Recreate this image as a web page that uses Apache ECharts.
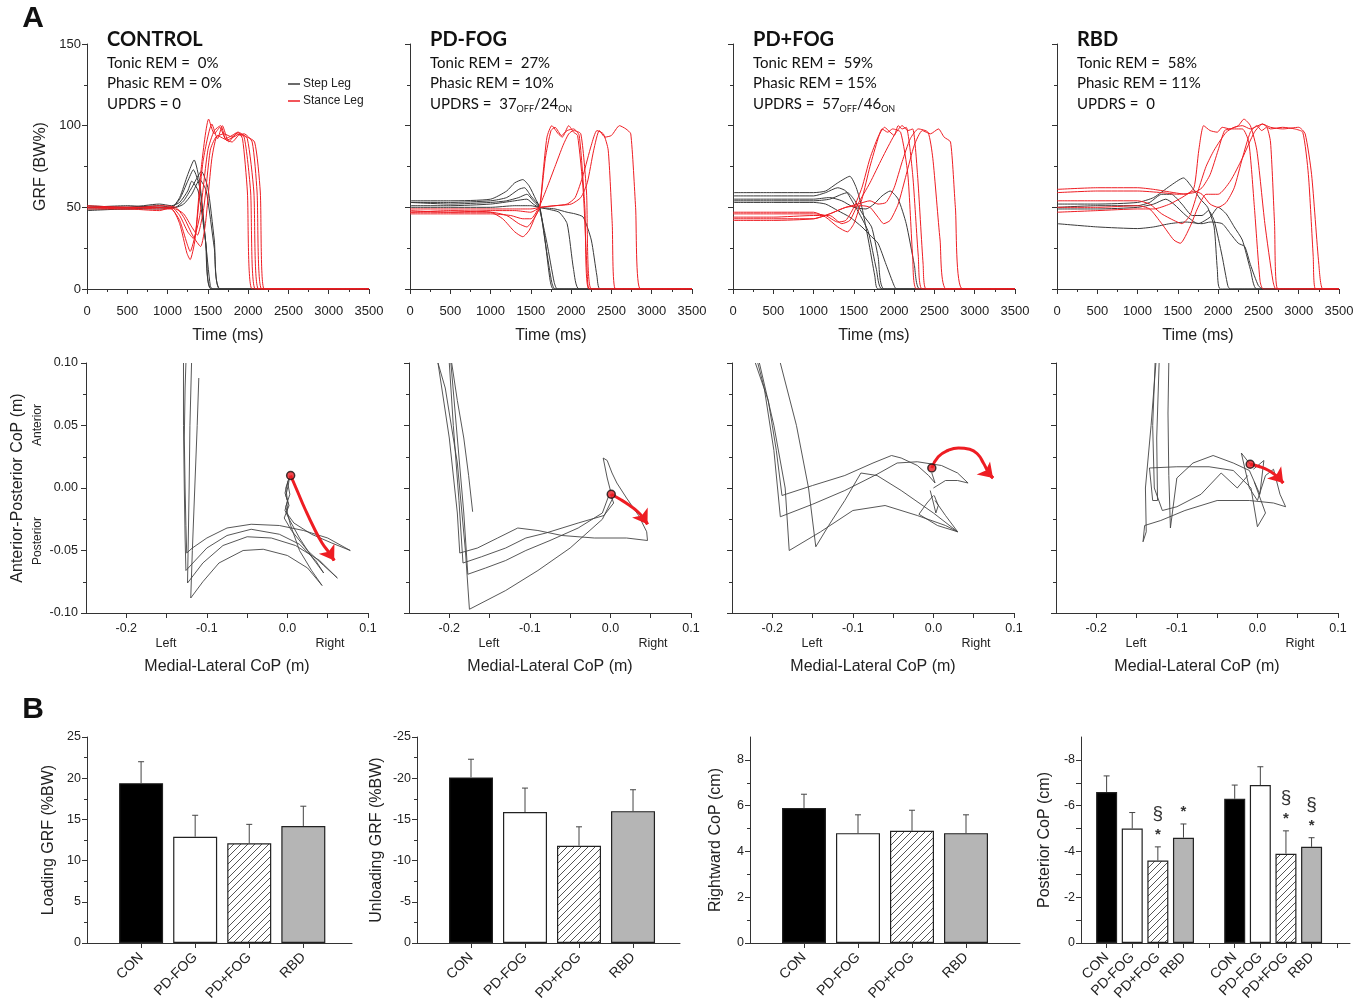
<!DOCTYPE html>
<html>
<head>
<meta charset="utf-8">
<script src="https://cdn.jsdelivr.net/npm/echarts@6/dist/echarts.min.js"></script>
<style>
  html, body { margin: 0; padding: 0; background: #fff; }
  #chart { width: 1363px; height: 1005px; }
</style>
</head>
<body>
<div id="chart"></div>
<script>
// ---- data: GRF traces [time ms, GRF %BW] ----
const grfControlStep = [
  [[0,50],[500,50],[900,51],[1050,50],[1150,56],[1250,70],[1330,79],[1400,65],[1470,30],[1530,2],[1560,0],[3500,0]],
  [[0,49],[500,49],[900,50],[1050,50],[1150,55],[1250,66],[1320,73],[1400,62],[1480,25],[1540,0],[3500,0]],
  [[0,51],[500,50],[900,52],[1050,51],[1150,53],[1250,60],[1300,66],[1380,60],[1470,30],[1550,0],[3500,0]],
  [[0,48],[500,49],[900,49],[1100,50],[1200,54],[1300,62],[1420,72],[1500,62],[1580,30],[1650,0],[3500,0]],
  [[0,50],[500,51],[900,50],[1100,50],[1200,52],[1300,58],[1400,67],[1480,60],[1580,25],[1660,0],[3500,0]]
];
const grfControlStance = [
  [[0,50],[500,50],[900,49],[1050,49],[1150,40],[1240,22],[1280,18],[1340,30],[1420,75],[1510,104],[1580,95],[1650,99],[1720,92],[1800,94],[1870,96],[1930,92],[1990,60],[2050,0],[3500,0]],
  [[0,51],[500,50],[900,50],[1050,49],[1150,42],[1240,28],[1280,23],[1350,35],[1440,78],[1550,101],[1620,92],[1680,100],[1760,90],[1850,95],[1950,93],[2030,60],[2090,0],[3500,0]],
  [[0,49],[500,49],[900,48],[1050,50],[1150,45],[1250,35],[1320,31],[1400,45],[1500,85],[1580,97],[1660,100],[1730,91],[1820,93],[1900,95],[1990,92],[2070,60],[2130,0],[3500,0]],
  [[0,50],[500,49],[900,51],[1100,50],[1200,44],[1320,32],[1410,26],[1470,40],[1550,80],[1620,94],[1700,92],[1800,90],[1880,94],[1950,95],[2050,90],[2110,60],[2170,0],[3500,0]],
  [[0,50],[500,50],[900,50],[1100,49],[1200,46],[1300,38],[1370,33],[1450,50],[1530,85],[1600,93],[1700,95],[1800,93],[1880,96],[1950,94],[2080,90],[2150,60],[2200,0],[3500,0]]
];
const grfPdNoFogStep = [
  [[0,54],[500,54],[1000,55],[1200,60],[1300,65],[1400,67],[1480,63],[1560,55],[1610,50],[1680,28],[1740,5],[1780,0],[3500,0]],
  [[0,53],[500,53],[1000,54],[1200,56],[1350,61],[1420,62],[1500,57],[1610,50],[1690,25],[1760,4],[1800,0],[3500,0]],
  [[0,53],[500,52],[1000,53],[1200,54],[1350,56],[1450,58],[1530,54],[1600,50],[1700,28],[1790,4],[1830,0],[3500,0]],
  [[0,51],[500,51],[1000,52],[1300,54],[1450,55],[1530,52],[1600,50],[1700,49],[1850,47],[1950,40],[2030,12],[2100,0],[3500,0]],
  [[0,50],[500,50],[1000,50],[1300,51],[1500,51],[1600,50],[1800,49],[1950,47],[2050,46],[2150,44],[2250,30],[2320,8],[2360,0],[3500,0]]
];
const grfPdNoFogStance = [
  [[0,47],[500,48],[1000,47],[1150,43],[1300,35],[1400,32],[1480,36],[1560,45],[1610,50],[1650,70],[1700,93],[1760,100],[1840,95],[1890,93],[1970,100],[2030,96],[2080,94],[2150,60],[2200,10],[2230,0],[3500,0]],
  [[0,48],[500,47],[1000,47],[1200,45],[1350,40],[1450,38],[1550,44],[1610,50],[1680,80],[1750,97],[1800,99],[1880,94],[1950,97],[2030,98],[2100,94],[2170,50],[2220,0],[3500,0]],
  [[0,46],[500,46],[1000,46],[1250,45],[1400,43],[1500,43],[1600,50],[1700,62],[1800,75],[1900,88],[1970,95],[2030,97],[2120,95],[2190,60],[2250,0],[3500,0]],
  [[0,47],[500,47],[1000,48],[1300,48],[1500,47],[1620,50],[1800,51],[1950,52],[2050,56],[2150,70],[2250,88],[2320,97],[2400,95],[2460,85],[2510,40],[2550,0],[3500,0]],
  [[0,49],[500,49],[1000,49],[1300,49],[1500,49],[1620,50],[1800,51],[2000,52],[2120,56],[2200,65],[2280,85],[2350,97],[2420,93],[2500,94],[2600,100],[2680,98],[2740,95],[2800,50],[2860,0],[3500,0]]
];
const grfPdFogStep = [
  [[0,59],[500,59],[1000,59],[1150,60],[1300,65],[1450,69],[1530,62],[1600,50],[1680,30],[1760,8],[1800,0],[3500,0]],
  [[0,57],[500,57],[1000,57],[1150,59],[1300,62],[1400,60],[1500,52],[1580,45],[1680,35],[1780,12],[1850,0],[3500,0]],
  [[0,54],[500,54],[1000,54],[1200,55],[1350,58],[1420,59],[1500,55],[1620,45],[1720,38],[1800,20],[1880,0],[3500,0]],
  [[0,53],[500,53],[1000,53],[1150,52],[1300,48],[1450,44],[1600,38],[1720,32],[1800,28],[1900,15],[2000,2],[2030,0],[3500,0]],
  [[0,55],[500,55],[1000,55],[1200,56],[1350,54],[1500,50],[1650,49],[1750,52],[1850,57],[1950,60],[2050,55],[2150,40],[2250,15],[2320,0],[3500,0]]
];
const grfPdFogStance = [
  [[0,47],[500,47],[1000,47],[1150,44],[1300,38],[1420,35],[1500,40],[1600,55],[1700,75],[1800,92],[1850,98],[1920,96],[1980,98],[2080,96],[2170,70],[2230,20],[2280,0],[3500,0]],
  [[0,46],[500,46],[1000,46],[1150,45],[1300,41],[1400,42],[1500,50],[1600,62],[1700,80],[1800,93],[1880,99],[1950,96],[2000,94],[2050,100],[2100,98],[2150,99],[2230,70],[2300,20],[2350,0],[3500,0]],
  [[0,44],[500,44],[1000,45],[1200,45],[1350,40],[1450,42],[1550,52],[1700,65],[1850,80],[2000,94],[2100,100],[2170,97],[2230,98],[2290,70],[2360,15],[2400,0],[3500,0]],
  [[0,43],[500,43],[1000,43],[1200,46],[1400,50],[1550,52],[1700,54],[1800,52],[1900,53],[2000,62],[2100,78],[2200,92],[2300,98],[2420,96],[2480,80],[2570,30],[2650,0],[3500,0]],
  [[0,42],[500,42],[1000,43],[1200,46],[1400,50],[1600,51],[1700,50],[1800,44],[1870,40],[1950,42],[2050,52],[2150,70],[2250,88],[2350,97],[2450,95],[2550,98],[2620,93],[2700,90],[2760,50],[2850,0],[3500,0]]
];
const grfRbdStep = [
  [[0,52],[500,52],[1000,53],[1200,56],[1400,63],[1570,68],[1680,62],[1780,55],[1870,50],[1950,38],[1990,12],[2030,0],[3500,0]],
  [[0,50],[500,51],[1000,51],[1150,53],[1300,58],[1420,58],[1550,52],[1680,45],[1800,45],[1880,48],[1950,42],[2050,20],[2120,2],[2150,0],[3500,0]],
  [[0,49],[500,49],[1000,50],[1200,52],[1350,55],[1450,52],[1600,45],[1750,40],[1900,44],[2000,50],[2100,46],[2200,38],[2300,30],[2400,12],[2480,0],[3500,0]],
  [[0,40],[500,38],[1000,37],[1200,38],[1400,40],[1600,41],[1800,40],[1900,41],[2050,40],[2150,34],[2250,28],[2330,26],[2400,15],[2500,2],[2560,0],[3500,0]]
];
const grfRbdStance = [
  [[0,61],[500,62],[1000,62],[1200,61],[1450,59],[1600,58],[1700,62],[1760,85],[1820,100],[1900,97],[1990,96],[2050,99],[2150,98],[2300,98],[2380,90],[2450,50],[2520,5],[2560,0],[3500,0]],
  [[0,59],[500,60],[1000,60],[1300,59],[1500,58],[1700,59],[1800,62],[1900,70],[2000,85],[2080,97],[2150,98],[2250,100],[2320,104],[2400,100],[2480,85],[2580,40],[2680,5],[2720,0],[3500,0]],
  [[0,54],[500,54],[1000,54],[1150,52],[1300,46],[1450,42],[1550,40],[1650,45],[1750,60],[1850,75],[1950,85],[2100,96],[2200,99],[2300,100],[2400,98],[2550,101],[2650,98],[2800,99],[2950,98],[3050,96],[3120,70],[3180,20],[3210,0],[3500,0]],
  [[0,50],[500,50],[1000,51],[1150,49],[1300,40],[1450,30],[1530,28],[1650,38],[1750,50],[1850,58],[2000,58],[2150,66],[2300,80],[2450,96],[2550,101],[2650,99],[2800,98],[3000,99],[3080,95],[3160,70],[3250,15],[3300,0],[3500,0]],
  [[0,47],[500,48],[1000,49],[1200,49],[1400,52],[1550,56],[1700,60],[1800,58],[1900,52],[2000,50],[2100,53],[2200,62],[2300,80],[2400,96],[2480,100],[2540,97],[2600,99],[2650,90],[2700,40],[2740,0],[3500,0]]
];

// ---- data: CoP traces [medial-lateral m, anterior-posterior m] ----
const copControl = [
  [[0.003,0.010],[0.001,0.002],[-0.002,-0.006],[0.001,-0.012],[-0.001,-0.020],[0.008,-0.028],[0.030,-0.037],[0.055,-0.044],[0.078,-0.050],[0.050,-0.040],[0.020,-0.034],[-0.010,-0.030],[-0.045,-0.029],[-0.075,-0.032],[-0.100,-0.040],[-0.118,-0.048],[-0.125,-0.052],[-0.126,-0.030],[-0.127,0.000],[-0.128,0.040],[-0.127,0.080],[-0.126,0.100]],
  [[0.002,0.008],[-0.002,0.000],[0.000,-0.010],[-0.003,-0.018],[0.003,-0.026],[0.015,-0.040],[0.030,-0.055],[0.045,-0.068],[0.035,-0.058],[0.015,-0.045],[-0.010,-0.037],[-0.045,-0.033],[-0.075,-0.038],[-0.100,-0.048],[-0.126,-0.066],[-0.127,-0.040],[-0.128,0.000],[-0.129,0.050],[-0.129,0.100]],
  [[0.001,0.006],[-0.003,-0.004],[0.002,-0.014],[-0.004,-0.024],[0.005,-0.034],[0.025,-0.050],[0.045,-0.062],[0.062,-0.072],[0.040,-0.058],[0.010,-0.046],[-0.020,-0.040],[-0.050,-0.039],[-0.080,-0.046],[-0.105,-0.060],[-0.124,-0.076],[-0.123,-0.040],[-0.122,0.000],[-0.121,0.050],[-0.119,0.100]],
  [[0.000,0.005],[0.003,-0.005],[-0.002,-0.015],[0.004,-0.030],[0.015,-0.050],[0.030,-0.066],[0.043,-0.078],[0.025,-0.064],[0.000,-0.054],[-0.030,-0.049],[-0.055,-0.050],[-0.085,-0.060],[-0.105,-0.075],[-0.120,-0.088],[-0.118,-0.050],[-0.115,0.000],[-0.112,0.050],[-0.110,0.088]]
];
const copControlArrow = [[0.004,0.010],[0.012,-0.002],[0.022,-0.017],[0.033,-0.032],[0.043,-0.044],[0.052,-0.052],[0.058,-0.058]];
const copControlStart = [0.004, 0.010];

const copPdNoFog = [
  [[0.000,-0.002],[-0.004,0.008],[-0.009,0.024],[-0.004,0.022],[0.002,0.012],[0.008,0.004],[0.020,-0.008],[0.035,-0.022],[0.045,-0.035],[0.046,-0.042],[0.020,-0.040],[-0.020,-0.040],[-0.060,-0.038],[-0.090,-0.034],[-0.115,-0.032],[-0.140,-0.040],[-0.165,-0.048],[-0.187,-0.052],[-0.190,-0.020],[-0.200,0.040],[-0.214,0.100]],
  [[0.000,-0.005],[0.004,-0.012],[-0.008,-0.022],[-0.040,-0.028],[-0.080,-0.036],[-0.105,-0.040],[-0.130,-0.048],[-0.160,-0.055],[-0.183,-0.060],[-0.188,-0.010],[-0.195,0.050],[-0.200,0.100]],
  [[-0.002,-0.006],[-0.010,-0.020],[-0.040,-0.032],[-0.075,-0.042],[-0.105,-0.050],[-0.130,-0.058],[-0.155,-0.064],[-0.177,-0.069],[-0.182,-0.020],[-0.190,0.040],[-0.198,0.100]],
  [[0.003,-0.008],[-0.010,-0.025],[-0.050,-0.048],[-0.090,-0.066],[-0.130,-0.082],[-0.175,-0.097],[-0.180,-0.050],[-0.190,0.020],[-0.205,0.080],[-0.214,0.100]],
  [[-0.171,-0.019],[-0.176,0.010],[-0.182,0.040],[-0.190,0.070],[-0.197,0.100]]
];
const copPdNoFogArrow = [[0.001,-0.005],[0.012,-0.009],[0.024,-0.014],[0.034,-0.019],[0.041,-0.024],[0.046,-0.029]];
const copPdNoFogStart = [0.001, -0.005];

const copPdFog = [
  [[-0.002,0.012],[0.002,0.004],[-0.006,0.010],[-0.020,0.018],[-0.040,0.024],[-0.052,0.026],[-0.075,0.020],[-0.110,0.010],[-0.150,0.002],[-0.188,-0.006],[-0.195,0.030],[-0.205,0.070],[-0.221,0.100]],
  [[0.000,0.000],[0.015,0.006],[0.030,0.006],[0.043,0.004],[0.030,0.012],[0.010,0.018],[-0.020,0.021],[-0.045,0.020],[-0.070,0.011],[-0.110,-0.002],[-0.150,-0.013],[-0.190,-0.023],[-0.198,0.030],[-0.210,0.080],[-0.218,0.100]],
  [[0.000,-0.006],[-0.008,-0.012],[-0.018,-0.021],[0.005,-0.030],[0.030,-0.035],[0.015,-0.030],[-0.020,-0.022],[-0.060,-0.014],[-0.100,-0.018],[-0.140,-0.035],[-0.179,-0.050],[-0.184,0.000],[-0.198,0.050],[-0.216,0.100]],
  [[0.002,-0.010],[0.015,-0.022],[0.030,-0.035],[0.000,-0.020],[-0.040,-0.002],[-0.070,0.010],[-0.090,0.012],[-0.110,-0.010],[-0.130,-0.030],[-0.146,-0.047],[-0.155,0.000],[-0.170,0.050],[-0.190,0.100]],
  [[-0.004,-0.002],[0.000,-0.012],[0.003,-0.020],[0.006,-0.014],[0.001,-0.006]]
];
const copPdFogArrow = [[-0.002,0.016],[0.006,0.025],[0.018,0.030],[0.031,0.032],[0.045,0.031],[0.055,0.027],[0.062,0.020],[0.067,0.014],[0.071,0.010],[0.074,0.008]];
const copPdFogStart = [-0.002, 0.016];

const copRbd = [
  [[-0.009,0.019],[-0.020,0.028],[-0.010,0.000],[0.000,-0.010],[0.010,0.010],[0.020,0.015],[0.028,-0.005],[0.035,-0.015],[0.020,-0.012],[-0.010,-0.010],[-0.050,-0.010],[-0.090,-0.018],[-0.120,-0.026],[-0.140,-0.030],[-0.142,-0.043],[-0.138,-0.035],[-0.139,0.000],[-0.132,0.050],[-0.126,0.100]],
  [[-0.005,0.015],[0.008,0.022],[0.003,-0.005],[-0.010,0.014],[-0.030,0.020],[-0.055,0.026],[-0.080,0.020],[-0.100,0.008],[-0.108,-0.032],[-0.110,0.010],[-0.111,0.060],[-0.110,0.100]],
  [[-0.004,0.005],[0.010,-0.020],[0.000,-0.031],[-0.008,0.000],[-0.030,0.014],[-0.060,0.017],[-0.100,0.017],[-0.134,0.016],[-0.130,-0.010],[-0.124,-0.010],[-0.125,0.040],[-0.122,0.100]],
  [[-0.012,0.010],[-0.025,0.000],[-0.045,0.012],[-0.070,-0.005],[-0.100,-0.015],[-0.118,-0.018],[-0.128,0.000],[-0.130,0.050],[-0.127,0.100]]
];
const copRbdArrow = [[-0.009,0.019],[0.003,0.017],[0.014,0.014],[0.023,0.010],[0.028,0.007],[0.032,0.004]];
const copRbdStart = [-0.009, 0.019];

// ---- data: bar panels ----
const barGroups = ['CON', 'PD-FOG', 'PD+FOG', 'RBD'];
const loadingGRF = [19.4, 12.9, 12.1, 14.2];
const loadingGRFErr = [2.6, 2.6, 2.3, 2.4];
const unloadingGRF = [-20.1, -15.9, -11.8, -16.0];
const unloadingGRFErr = [2.2, 2.9, 2.3, 2.6];
const rightwardCoP = [5.9, 4.8, 4.9, 4.8];
const rightwardCoPErr = [0.6, 0.8, 0.9, 0.8];
const posteriorCoP = [-6.6, -5.0, -3.6, -4.6, -6.3, -6.9, -3.9, -4.2];
const posteriorCoPErr = [0.7, 0.7, 0.6, 0.6, 0.6, 0.8, 1.0, 0.4];
const posteriorStar = [0, 0, 1, 1, 0, 0, 1, 1];
const posteriorSection = [0, 0, 1, 0, 0, 0, 1, 1];

const panelInfo = [
  { title: 'CONTROL', tonic: '0%', phasic: '0%', updrs: ['0'] },
  { title: 'PD-FOG', tonic: '27%', phasic: '10%', updrs: ['37', 'OFF', '/24', 'ON'] },
  { title: 'PD+FOG', tonic: '59%', phasic: '15%', updrs: ['57', 'OFF', '/46', 'ON'] },
  { title: 'RBD', tonic: '58%', phasic: '11%', updrs: ['0'] }
];

// ---- styles / layout ----
const FONT = '"Liberation Sans", Arial, sans-serif';
const TITLE_FONT = 'Lato, "Open Sans", sans-serif';
const INK = '#222';
const RED = '#ee1d23';
const TRACE = '#3a3a3a';
const panelLefts = [87, 410, 733, 1057];
const panelW = 282;

const grids = [], xAxes = [], yAxes = [], series = [], graphics = [];

function mkAxis(o) {
  const base = {
    nameLocation: 'middle',
    nameMoveOverlap: false,
    axisLine: { show: true, onZero: false, lineStyle: { color: '#333', width: 1 } },
    axisTick: { show: true, length: 5, lineStyle: { color: '#333', width: 1 } },
    minorTick: { show: false, splitNumber: 2, length: 3, lineStyle: { color: '#333', width: 1 } },
    axisLabel: { color: INK, fontSize: 12.5, fontFamily: FONT, margin: 6 },
    splitLine: { show: false },
    minorSplitLine: { show: false },
    nameTextStyle: { color: INK, fontSize: 16, fontFamily: FONT }
  };
  const out = Object.assign({}, base, o);
  ['axisLine', 'axisTick', 'minorTick', 'axisLabel', 'nameTextStyle'].forEach(k => {
    if (o[k]) out[k] = Object.assign({}, base[k], o[k]);
  });
  return out;
}

function addGrid(rect) {
  grids.push(Object.assign({ outerBoundsMode: 'none' }, rect));
  return grids.length - 1;
}

function addTraces(traces, gi, color, name, width, smooth) {
  traces.forEach(t => series.push({
    type: 'line', name, xAxisIndex: gi, yAxisIndex: gi, data: t,
    showSymbol: false, symbol: 'none', smooth, silent: true, z: 2,
    lineStyle: { color, width }, itemStyle: { color }
  }));
}

// GRF panels
function grfPanel(p, step, stance) {
  const gi = addGrid({ left: panelLefts[p], top: 44, width: panelW, height: 245 });
  xAxes.push(mkAxis({
    gridIndex: gi, type: 'value', min: 0, max: 3500, interval: 500,
    name: 'Time (ms)', nameGap: 39,
    minorTick: { show: true },
    axisLabel: { fontSize: 13, margin: 16, formatter: v => String(v) }
  }));
  yAxes.push(mkAxis({
    gridIndex: gi, type: 'value', min: 0, max: 150, interval: 50,
    name: p === 0 ? 'GRF (BW%)' : '', nameGap: 38,
    minorTick: { show: true },
    axisLabel: { show: p === 0, fontSize: 13 }
  }));
  addTraces(step, gi, TRACE, 'Step Leg', 1, 0.2);
  addTraces(stance, gi, RED, 'Stance Leg', 1, 0.2);
}

// CoP panels
function copPanel(p, traces, arrow, start) {
  const gi = addGrid({ left: panelLefts[p] - 1, top: 363, width: panelW, height: 250 });
  xAxes.push(mkAxis({
    gridIndex: gi, type: 'value', min: -0.25, max: 0.1,
    name: 'Medial-Lateral CoP (m)', nameGap: 46,
    axisLabel: { customValues: [-0.2, -0.1, 0, 0.1], formatter: v => v.toFixed(1), margin: 9 },
    axisTick: { customValues: [-0.2, -0.15, -0.1, -0.05, 0, 0.05, 0.1] }
  }));
  yAxes.push(mkAxis({
    gridIndex: gi, type: 'value', min: -0.1, max: 0.1, interval: 0.05,
    name: p === 0 ? 'Anterior-Posterior CoP (m)' : '', nameGap: 60,
    minorTick: { show: true },
    axisLabel: { show: p === 0, formatter: v => v.toFixed(2), margin: 8 }
  }));
  addTraces(traces, gi, '#444', 'CoP', 0.9, false);
  series.push({
    type: 'line', xAxisIndex: gi, yAxisIndex: gi, data: arrow, smooth: true,
    showSymbol: false, symbol: 'none', silent: true, z: 5,
    lineStyle: { color: RED, width: 3 }
  });
  const n = arrow.length;
  series.push({
    type: 'lines', coordinateSystem: 'cartesian2d', xAxisIndex: gi, yAxisIndex: gi,
    symbol: ['none', 'arrow'], symbolSize: 14, silent: true, z: 5,
    lineStyle: { color: RED, width: 3, opacity: 1 },
    data: [{ coords: [arrow[n - 2], arrow[n - 1]] }]
  });
  series.push({
    type: 'scatter', xAxisIndex: gi, yAxisIndex: gi, data: [start],
    symbol: 'circle', symbolSize: 8, silent: true, z: 6,
    itemStyle: { color: RED, borderColor: '#111', borderWidth: 1.5 }
  });
  graphics.push(
    { type: 'text', x: panelLefts[p] + 79, y: 644, style: { text: 'Left', font: '12.5px ' + FONT, fill: INK, align: 'center', verticalAlign: 'middle' } },
    { type: 'text', x: panelLefts[p] + 243, y: 644, style: { text: 'Right', font: '12.5px ' + FONT, fill: INK, align: 'center', verticalAlign: 'middle' } }
  );
}

// hatch pattern for PD+FOG bars
function makeHatch() {
  const c = document.createElement('canvas');
  c.width = 7; c.height = 7;
  const g = c.getContext('2d');
  g.fillStyle = '#fff'; g.fillRect(0, 0, 7, 7);
  g.strokeStyle = '#555'; g.lineWidth = 1;
  g.beginPath();
  g.moveTo(-1, 8); g.lineTo(8, -1);
  g.moveTo(-1, 1); g.lineTo(1, -1);
  g.moveTo(6, 8); g.lineTo(8, 6);
  g.stroke();
  return c;
}
const barFills = ['#000', '#fff', { image: makeHatch(), repeat: 'repeat' }, '#b5b5b5'];

function barPanel(cfg) {
  const gi = addGrid({ left: cfg.left, top: 737, width: cfg.width, height: 206 });
  xAxes.push(mkAxis({
    gridIndex: gi, type: 'value', min: 0, max: cfg.xMax,
    axisLabel: { customValues: cfg.pos, rotate: 45, fontSize: 14, margin: 12, formatter: v => barGroups[cfg.pos.indexOf(v) % 4] },
    axisTick: { customValues: cfg.ticks, length: 5 }
  }));
  yAxes.push(mkAxis(Object.assign({ gridIndex: gi, type: 'value', name: cfg.name, nameGap: cfg.nameGap }, cfg.y)));
  series.push({
    type: 'bar', xAxisIndex: gi, yAxisIndex: gi, barWidth: cfg.barWidth, silent: true, z: 2,
    data: cfg.values.map((v, i) => ({
      value: [cfg.pos[i], v],
      itemStyle: { color: barFills[i % 4], borderColor: '#222', borderWidth: 1.2 }
    }))
  });
  series.push({
    type: 'custom', xAxisIndex: gi, yAxisIndex: gi, silent: true, z: 4,
    encode: { x: 0, y: 1 },
    data: cfg.values.map((v, i) => [cfg.pos[i], v, cfg.errs[i], cfg.star ? cfg.star[i] : 0, cfg.section ? cfg.section[i] : 0]),
    renderItem(params, api) {
      const x = api.value(0), v = api.value(1), e = api.value(2);
      const tip = v < 0 ? v - e : v + e;
      const a = api.coord([x, v]), b = api.coord([x, tip]);
      const st = { stroke: '#444', lineWidth: 1 };
      const kids = [
        { type: 'line', shape: { x1: a[0], y1: a[1], x2: b[0], y2: b[1] }, style: st },
        { type: 'line', shape: { x1: b[0] - 3, y1: b[1], x2: b[0] + 3, y2: b[1] }, style: st }
      ];
      if (api.value(3)) kids.push({ type: 'text', x: b[0], y: b[1] - 12, style: { text: '*', font: 'bold 15px ' + FONT, fill: '#333', align: 'center', verticalAlign: 'middle' } });
      if (api.value(4)) kids.push({ type: 'text', x: b[0], y: b[1] - 33, style: { text: '§', font: '19px ' + FONT, fill: '#333', align: 'center', verticalAlign: 'middle' } });
      return { type: 'group', children: kids };
    }
  });
}

grfPanel(0, grfControlStep, grfControlStance);
grfPanel(1, grfPdNoFogStep, grfPdNoFogStance);
grfPanel(2, grfPdFogStep, grfPdFogStance);
grfPanel(3, grfRbdStep, grfRbdStance);

copPanel(0, copControl, copControlArrow, copControlStart);
copPanel(1, copPdNoFog, copPdNoFogArrow, copPdNoFogStart);
copPanel(2, copPdFog, copPdFogArrow, copPdFogStart);
copPanel(3, copRbd, copRbdArrow, copRbdStart);

barPanel({
  left: 87, width: 265, xMax: 4.9, pos: [1, 2, 3, 4], ticks: [1, 2, 3, 4], barWidth: 44,
  values: loadingGRF, errs: loadingGRFErr, name: 'Loading GRF (%BW)', nameGap: 30,
  y: { min: 0, max: 25, interval: 5, minorTick: { show: true } }
});
barPanel({
  left: 417, width: 263, xMax: 4.87, pos: [1, 2, 3, 4], ticks: [1, 2, 3, 4], barWidth: 44,
  values: unloadingGRF, errs: unloadingGRFErr, name: 'Unloading GRF (%BW)', nameGap: 32,
  y: { min: -25, max: 0, interval: 5, inverse: true, minorTick: { show: true } }
});
barPanel({
  left: 750, width: 270, xMax: 5, pos: [1, 2, 3, 4], ticks: [1, 2, 3, 4], barWidth: 44,
  values: rightwardCoP, errs: rightwardCoPErr, name: 'Rightward CoP (cm)', nameGap: 26,
  y: { min: 0, max: 9, interval: 2, minorTick: { show: true },
       axisLabel: { customValues: [0, 2, 4, 6, 8] }, axisTick: { customValues: [0, 2, 4, 6, 8] } }
});
barPanel({
  left: 1081, width: 269, xMax: 10.5, pos: [1, 2, 3, 4, 6, 7, 8, 9], ticks: [1, 2, 3, 4, 5, 6, 7, 8, 9, 10], barWidth: 21,
  values: posteriorCoP, errs: posteriorCoPErr, star: posteriorStar, section: posteriorSection,
  name: 'Posterior CoP (cm)', nameGap: 28,
  y: { min: -9, max: 0, inverse: true,
       axisLabel: { customValues: [-8, -6, -4, -2, 0] }, axisTick: { customValues: [-8, -7, -6, -5, -4, -3, -2, -1, 0] } }
});

// panel letters and annotations
graphics.push(
  { type: 'text', x: 33, y: 19, style: { text: 'A', font: 'bold 30px ' + FONT, fill: '#111', align: 'center', verticalAlign: 'middle' } },
  { type: 'text', x: 33, y: 710, style: { text: 'B', font: 'bold 30px ' + FONT, fill: '#111', align: 'center', verticalAlign: 'middle' } },
  { type: 'text', x: 38, y: 425, rotation: Math.PI / 2, style: { text: 'Anterior', font: '12px ' + FONT, fill: INK, align: 'center', verticalAlign: 'middle' } },
  { type: 'text', x: 38, y: 541, rotation: Math.PI / 2, style: { text: 'Posterior', font: '12px ' + FONT, fill: INK, align: 'center', verticalAlign: 'middle' } }
);
panelInfo.forEach((info, p) => {
  const x = panelLefts[p] + 20;
  const t = { fontSize: 15, fontFamily: TITLE_FONT, fill: '#111' };
  graphics.push(
    { type: 'text', x, y: 40, style: { text: info.title, font: 'bold 20px ' + TITLE_FONT, fill: '#111', verticalAlign: 'middle' } },
    { type: 'text', x, y: 63, style: Object.assign({ text: 'Tonic REM =  ' + info.tonic, verticalAlign: 'middle' }, t) },
    { type: 'text', x, y: 83, style: Object.assign({ text: 'Phasic REM = ' + info.phasic, verticalAlign: 'middle' }, t) }
  );
  const u = info.updrs;
  let rich = '{a|UPDRS = ' + (u.length > 1 || p > 0 ? ' ' : '') + u[0] + '}';
  if (u.length > 1) rich += '{s|' + u[1] + '}{a|' + u[2] + '}{s|' + u[3] + '}';
  graphics.push({
    type: 'text', x, y: 104,
    style: {
      text: rich, verticalAlign: 'middle',
      rich: {
        a: { fontSize: 15, fontFamily: TITLE_FONT, fill: '#111', lineHeight: 20 },
        s: { fontSize: 9, fontFamily: TITLE_FONT, fill: '#111', lineHeight: 20, verticalAlign: 'bottom' }
      }
    }
  });
});

const chart = echarts.init(document.getElementById('chart'), null, { renderer: 'canvas' });
chart.setOption({
  animation: false,
  backgroundColor: '#fff',
  legend: {
    left: 283, top: 73, orient: 'vertical', itemWidth: 12, itemHeight: 1.5, itemGap: 5,
    icon: 'rect', selectedMode: false, data: ['Step Leg', 'Stance Leg'],
    textStyle: { fontSize: 12, fontFamily: FONT, color: INK, padding: [0, 0, 0, -2] }
  },
  grid: grids,
  xAxis: xAxes,
  yAxis: yAxes,
  series,
  graphic: graphics
});
</script>
</body>
</html>
